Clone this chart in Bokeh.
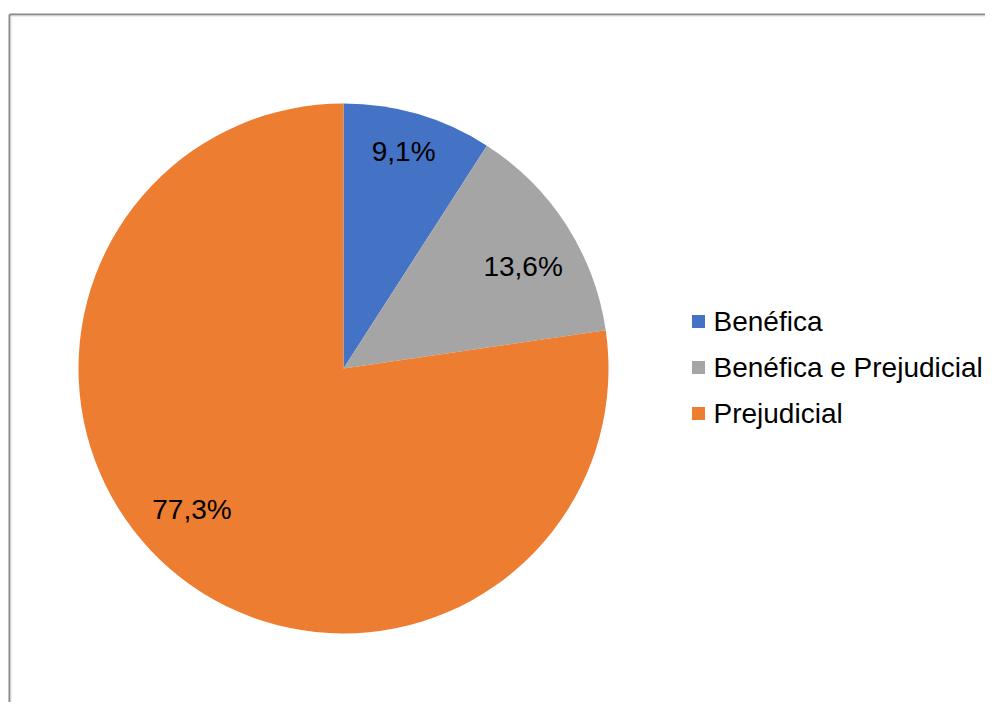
import math
from bokeh.plotting import figure
from bokeh.models import Range1d, ColumnDataSource
from bokeh.core.properties import value
from bokeh.embed import file_html
from bokeh.resources import INLINE

# ---- data ----
categories = ["Benéfica", "Benéfica e Prejudicial", "Prejudicial"]
percentages = [9.1, 13.6, 77.3]
pct_labels = ["9,1%", "13,6%", "77,3%"]
colors = ["#4472C4", "#A5A5A5", "#ED7D31"]

# ---- layout (pixel-like data space: x = image x, y = 718 - image y) ----
W, H = 985, 702
cx, cy, R = 343, 718 - 368, 265
label_rfrac = [0.85, 0.78, 0.78]
label_dangle = [0.9, -3.1, -6.3]
FONT = "Liberation Sans"

p = figure(width=W, height=H, output_backend="svg", toolbar_location=None,
           x_range=Range1d(0, W), y_range=Range1d(718 - H, 718),
           min_border=0, min_border_left=0, min_border_right=0,
           min_border_top=0, min_border_bottom=0)
p.axis.visible = False
p.grid.visible = False
p.outline_line_color = None
p.background_fill_color = "white"
p.border_fill_color = "white"

# chart border (top + left visible)
p.line([9, W], [704, 704], line_color="#8a8a8a", line_width=2)
p.line([9, 9], [718 - H, 704], line_color="#8a8a8a", line_width=2)
p.line([11, W], [702.5, 702.5], line_color="#dcdcdc", line_width=1)
p.line([10.5, 10.5], [718 - H, 702.5], line_color="#dcdcdc", line_width=1)

total = sum(percentages)
starts, ends, mids = [], [], []
cum = 0.0
for v in percentages:
    a0 = math.pi / 2 - cum / total * 2 * math.pi
    cum += v
    a1 = math.pi / 2 - cum / total * 2 * math.pi
    starts.append(a0)
    ends.append(a1)
    mids.append((a0 + a1) / 2)

src = ColumnDataSource(dict(start=starts, end=ends, color=colors, cat=categories))
p.wedge(x=cx, y=cy, radius=R, start_angle="start", end_angle="end",
        direction="clock", fill_color="color", line_color=None, source=src)

lx, ly = [], []
for m, f, d in zip(mids, label_rfrac, label_dangle):
    a = m + math.radians(d)
    lx.append(cx + f * R * math.cos(a))
    ly.append(cy + f * R * math.sin(a))
p.text(x=lx, y=ly, text=pct_labels, text_align="center", text_baseline="middle",
       text_font=value(FONT), text_font_size="28px", text_color="#000000")

# legend (manual)
leg_x = [698] * len(categories)
leg_y = [718 - 321 - 46 * i for i in range(len(categories))]
p.scatter(x=leg_x, y=leg_y, marker="square", size=13, fill_color=colors, line_color=None)
p.text(x=[713] * len(categories), y=leg_y, text=categories, text_align="left",
       text_baseline="middle", text_font=value(FONT), text_font_size="28px",
       text_color="#000000")

open("out.html", "w").write(file_html(p, INLINE))
